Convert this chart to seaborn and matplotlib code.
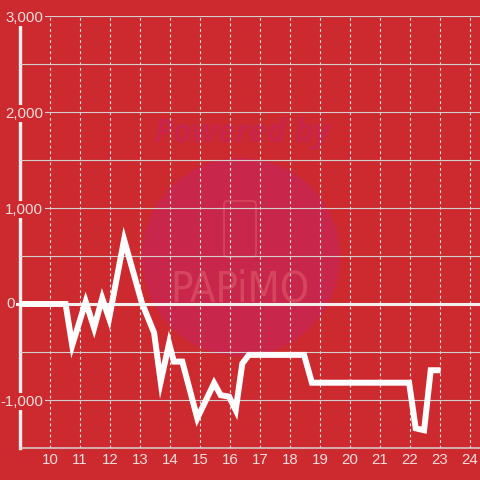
import matplotlib
matplotlib.use("Agg")
import matplotlib.pyplot as plt
from matplotlib.ticker import FixedLocator, MultipleLocator, FuncFormatter
from matplotlib.patches import Ellipse, FancyBboxPatch
import seaborn as sns
import pandas as pd

# ---- data ----
hours = [9.0, 10.52, 10.74, 11.19, 11.47, 11.74, 11.97, 12.47, 13.06, 13.47, 13.69,
         13.97, 14.13, 14.41, 14.91, 15.47, 15.69, 15.97, 16.19, 16.41, 16.63,
         18.47, 18.73, 21.97, 22.19, 22.47, 22.69, 23.02]
values = [0, 0, -430, 25, -250, 60, -150, 670, 15, -300, -810,
          -410, -600, -600, -1190, -825, -950, -965, -1105, -620, -530,
          -530, -820, -820, -1295, -1315, -690, -690]
x_ticks = [10, 11, 12, 13, 14, 15, 16, 17, 18, 19, 20, 21, 22, 23, 24]
y_ticks = [-1000, 0, 1000, 2000, 3000]

df = pd.DataFrame({"hour": hours, "value": values})

RED = "#cc2a2e"
LABEL = "#f3dede"

plt.rcParams["font.family"] = ["Liberation Sans", "DejaVu Sans"]

fig = plt.figure(figsize=(4.8, 4.8), dpi=100, facecolor=RED)
ax = fig.add_axes([20 / 480, 32 / 480, 460 / 480, 432 / 480])
ax.set_facecolor("none")

# watermark (behind the axes)
fig.add_artist(Ellipse((241 / 480, 1 - 257 / 480), 198 / 480, 198 / 480,
                       transform=fig.transFigure, fc="#c8264a", ec="none", zorder=-2))
fig.add_artist(FancyBboxPatch((224 / 480, 1 - 257 / 480), 32 / 480, 56 / 480,
                              boxstyle="round,pad=0,rounding_size=0.008",
                              transform=fig.transFigure, fc="none", ec="#d4475f",
                              lw=1.2, zorder=-1))
fig.text(242 / 480, 1 - 133 / 480, "Powered by", ha="center", va="center",
         fontsize=23.5, fontweight="bold", fontstyle="italic", color="#c9254b", zorder=-1,
         family=["Open Sans", "DejaVu Sans"])
fig.text(240 / 480, 1 - 290 / 480, "PAPiMO", ha="center", va="center",
         fontsize=30, fontweight="light", fontstretch="condensed", color="#d5465e",
         zorder=-1, family=["DejaVu Sans"])

# data line
sns.lineplot(data=df, x="hour", y="value", ax=ax, color="white", lw=4.3,
             sort=False, zorder=3, solid_joinstyle="miter", solid_capstyle="butt")

ax.set_xlim(9, 9 + 460 / 30)
ax.set_ylim(-1500, 3000)

ax.xaxis.set_major_locator(FixedLocator(x_ticks))
ax.yaxis.set_major_locator(FixedLocator(y_ticks))
ax.yaxis.set_minor_locator(MultipleLocator(500))
ax.yaxis.set_major_formatter(FuncFormatter(lambda v, p: "" if v == 0 else f"{v:,.0f}"))
ax.set_xlabel("")
ax.set_ylabel("")

ax.grid(axis="y", which="both", color="#d6cfcf", lw=0.8, ls="-")
ax.grid(axis="x", which="major", color="#eee4e4", lw=0.8, ls=(0, (2.5, 2.5)))
ax.set_axisbelow("line")

ax.tick_params(axis="y", which="both", length=0, pad=-16.6, labelcolor=LABEL, labelsize=10.8)
ax.tick_params(axis="x", which="both", length=0, pad=3.5, labelcolor=LABEL, labelsize=10.8)

for s in ["top", "right", "left"]:
    ax.spines[s].set_visible(False)
ax.spines["bottom"].set_color("#d8d2d2")
ax.spines["bottom"].set_linewidth(1.1)

# left white axis line (below the labels) and zero line
ax.axvline(9, color="#f4efef", lw=2.4, zorder=1.4, clip_on=False)
ax.axhline(0, xmin=-3 / 460, xmax=1, color="#f4efef", lw=2.2, zorder=1.6, clip_on=False)
ax.annotate("0", xy=(0, 0), xycoords=("axes fraction", "data"), xytext=(-5, 0),
            textcoords="offset pixels", ha="right", va="center", color=LABEL,
            fontsize=10.8)

fig.canvas.draw()
for lbl in ax.get_yticklabels():
    lbl.set_bbox(dict(boxstyle="square,pad=0.12", fc=RED, ec="none"))

fig.savefig("out.png", dpi=100, facecolor=RED)
